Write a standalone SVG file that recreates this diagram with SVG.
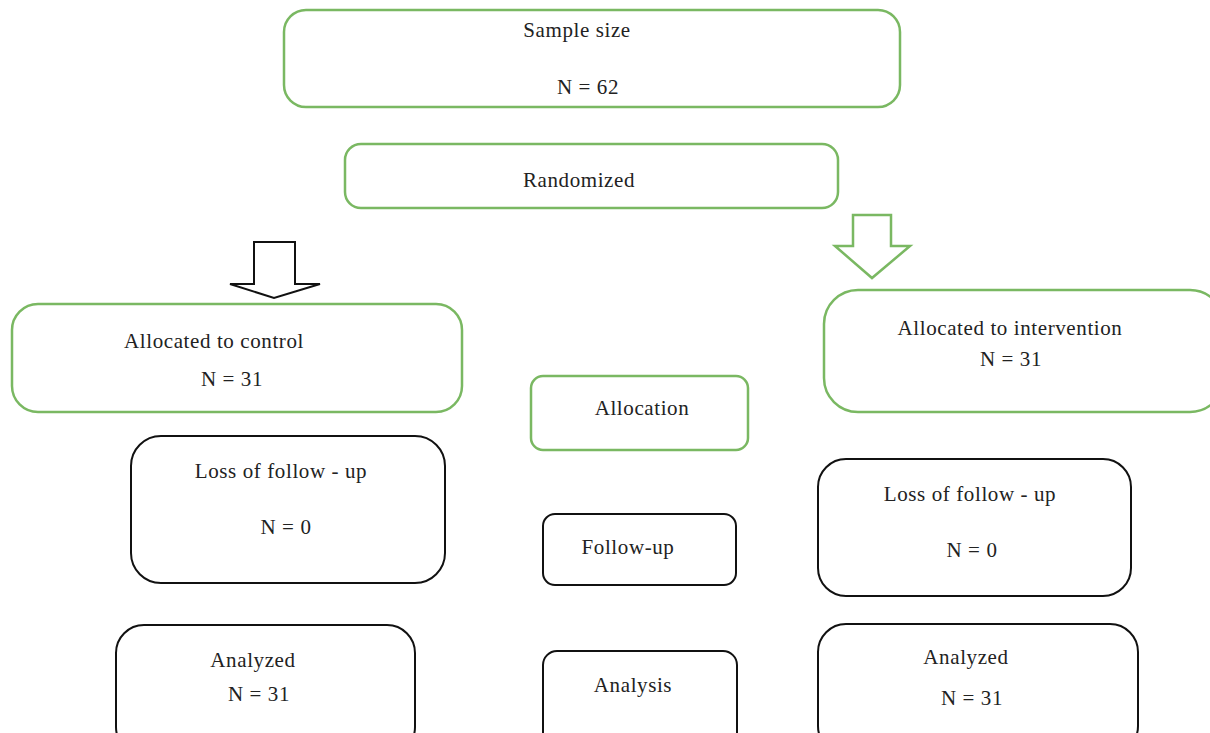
<svg xmlns="http://www.w3.org/2000/svg" width="1210" height="733" viewBox="0 0 1210 733">
<style>
.g{fill:#fff;stroke:#7ab862;stroke-width:2.5}
.k{fill:#fff;stroke:#111;stroke-width:2}
text{font-family:"Liberation Serif","DejaVu Serif",serif;font-size:21px;letter-spacing:0.6px;fill:#222;text-anchor:middle}
</style>
<rect width="1210" height="733" fill="#fff"/>
<g id="connectors">
<path class="k" d="M254,242 H295 V284 H320 L274,298 L230,284 H254 Z"/>
<path class="g" d="M853,215 H891 V246 H910 L872,278 L835,246 H853 Z"/>
</g>
<g id="sample"><rect class="g" x="284" y="10" width="616" height="97" rx="22"/><text x="577" y="37">Sample size</text><text x="588" y="94">N = 62</text></g>
<g id="randomized"><rect class="g" x="345" y="144" width="493" height="64" rx="16"/><text x="579" y="187">Randomized</text></g>
<g id="alloc-control"><rect class="g" x="12" y="304" width="450" height="108" rx="26"/><text x="214" y="348">Allocated to control</text><text x="232" y="386">N = 31</text></g>
<g id="alloc-interv"><rect class="g" x="824" y="290" width="400" height="122" rx="34"/><text x="1010" y="335">Allocated to intervention</text><text x="1011" y="366">N = 31</text></g>
<g id="allocation"><rect class="g" x="531" y="376" width="217" height="74" rx="12"/><text x="642" y="415">Allocation</text></g>
<g id="loss-left"><rect class="k" x="131" y="436" width="314" height="147" rx="30"/><text x="281" y="478">Loss  of follow - up</text><text x="286" y="534">N = 0</text></g>
<g id="followup"><rect class="k" x="543" y="514" width="193" height="71" rx="12"/><text x="628" y="554">Follow-up</text></g>
<g id="loss-right"><rect class="k" x="818" y="459" width="313" height="137" rx="28"/><text x="970" y="501">Loss  of follow - up</text><text x="972" y="557">N = 0</text></g>
<g id="analyzed-left"><rect class="k" x="116" y="625" width="299" height="130" rx="28"/><text x="253" y="667">Analyzed</text><text x="259" y="701">N = 31</text></g>
<g id="analysis"><rect class="k" x="543" y="651" width="194" height="100" rx="14"/><text x="633" y="692">Analysis</text></g>
<g id="analyzed-right"><rect class="k" x="818" y="624" width="320" height="130" rx="28"/><text x="966" y="664">Analyzed</text><text x="972" y="705">N = 31</text></g>
</svg>
